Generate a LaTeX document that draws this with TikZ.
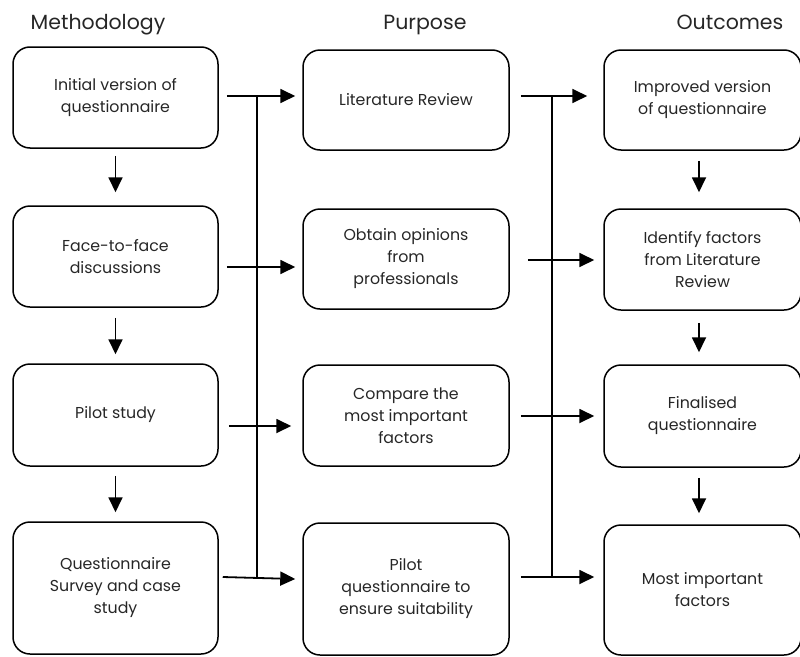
\documentclass[tikz,border=0pt]{standalone}
\usepackage{fontspec}
\setmainfont{Poppins}
\usetikzlibrary{arrows.meta,calc}
\begin{document}
\begin{tikzpicture}[x=1pt,y=-1pt,
  box/.style={draw, line width=1.5pt, rounded corners=17pt, align=center, inner sep=0pt,
    minimum width=205pt, font=\fontsize{15.8}{22}\selectfont, text=black!85},
  hdr/.style={anchor=base, font=\fontsize{20.5}{24}\selectfont, text=black!85},
  arr/.style={line width=1.8pt, -{Triangle[width=14pt,length=15pt]}},
  ln/.style={line width=1.5pt}]
\useasboundingbox (0,0) rectangle (800,656);

% headers
\node[hdr] (h1) at (98,29) {Methodology};
\node[hdr] (h2) at (425,29) {Purpose};
\node[hdr] (h3) at (730,29) {Outcomes};

% methodology column
\node[box, minimum height=101pt] (m1) at (115.5,97.5) {Initial version of\\questionnaire};
\node[box, minimum height=101pt] (m2) at (115.5,256.5) {Face-to-face\\discussions};
\node[box, minimum height=102pt] (m3) at (115.5,415) {Pilot study};
\node[box, minimum height=132pt] (m4) at (115.5,588) {Questionnaire\\Survey and case\\study};

% purpose column
\node[box, minimum width=206pt, minimum height=100pt] (p1) at (406,100) {Literature Review};
\node[box, minimum width=206pt, minimum height=100pt] (p2) at (406,259) {Obtain opinions\\from\\professionals};
\node[box, minimum width=206pt, minimum height=101pt] (p3) at (406,415.5) {Compare the\\most important\\factors};
\node[box, minimum width=206pt, minimum height=132pt] (p4) at (406,589) {Pilot\\questionnaire to\\ensure suitability};

% outcomes column
\node[box, minimum width=197pt, minimum height=100pt] (o1) at (702.5,100) {Improved version\\of questionnaire};
\node[box, minimum width=197pt, minimum height=101pt] (o2) at (702.5,259.5) {Identify factors\\from Literature\\Review};
\node[box, minimum width=197pt, minimum height=102pt] (o3) at (702.5,416) {Finalised\\questionnaire};
\node[box, minimum width=197pt, minimum height=130pt] (o4) at (702.5,590) {Most important\\factors};

% vertical arrows
\draw[arr] ($(m1.south)+(0,7)$) -- ($(m2.north)+(0,-13)$);
\draw[arr] ($(m2.south)+(0,10)$) -- ($(m3.north)+(0,-9)$);
\draw[arr] ($(m3.south)+(0,9)$) -- ($(m4.north)+(0,-9)$);
\draw[arr] ($(o1.south)+(-3.5,10)$) -- ($(o2.north)+(-3.5,-16)$);
\draw[arr] ($(o2.south)+(-3.5,12)$) -- ($(o3.north)+(-3.5,-12)$);
\draw[arr] ($(o3.south)+(-3.5,10)$) -- ($(o4.north)+(-3.5,-11)$);

% junction lines
\coordinate (v1t) at (257,96);
\coordinate (v1b) at (257,577);
\coordinate (v2t) at (552,96);
\coordinate (v2b) at (552,577);
\draw[ln] (v1t) -- (v1b);
\draw[ln] (v2t) -- (v2b);

% methodology -> purpose
\draw[arr] ($(m1.east)+(8,-1.5)$) -- ($(p1.west)+(-7,-4)$);
\draw[arr] ($(m2.east)+(8,10.5)$) -- ($(p2.west)+(-7,8)$);
\draw[arr] ($(m3.east)+(10,11)$) -- ($(p3.west)+(-11,10.5)$);
\draw[arr] ($(m4.east)+(4,-11)$) -- ($(p4.west)+(-7,-10)$);

% purpose -> outcomes
\draw[arr] ($(p1.east)+(11,-4)$) -- ($(o1.west)+(-16,-4)$);
\draw[arr] ($(p2.east)+(18,1)$) -- ($(o2.west)+(-9,0.5)$);
\draw[arr] ($(p3.east)+(11,0.5)$) -- ($(o3.west)+(-9,0)$);
\draw[arr] ($(p4.east)+(11,-12)$) -- ($(o4.west)+(-9,-13)$);
\end{tikzpicture}
\end{document}
